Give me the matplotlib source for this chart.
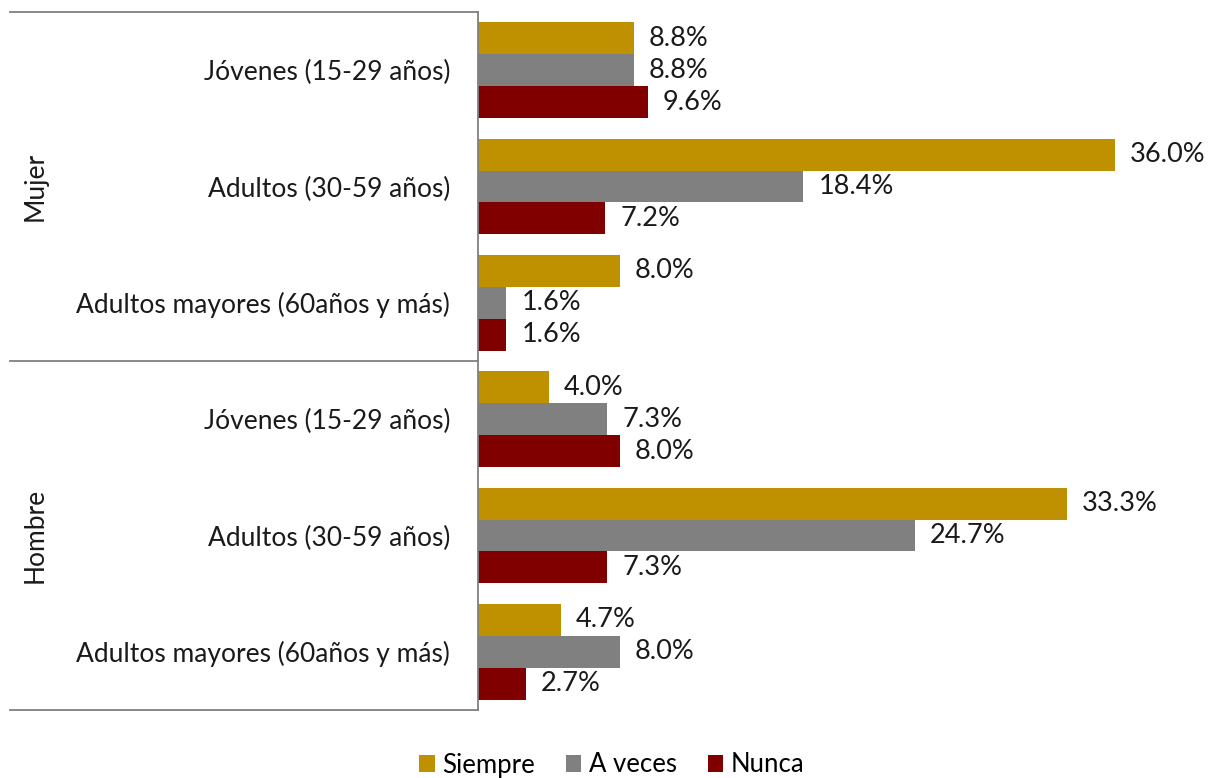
import matplotlib
matplotlib.use("Agg")
import matplotlib.pyplot as plt
from matplotlib.lines import Line2D
from matplotlib.patches import Patch
import numpy as np

plt.rcParams['font.family'] = ['Lato', 'DejaVu Sans']

groups = ["Mujer", "Hombre"]
categories = ["Jóvenes (15-29 años)", "Adultos (30-59 años)", "Adultos mayores (60años y más)",
              "Jóvenes (15-29 años)", "Adultos (30-59 años)", "Adultos mayores (60años y más)"]
series = ["Siempre", "A veces", "Nunca"]
siempre = [8.8, 36.0, 8.0, 4.0, 33.3, 4.7]
a_veces = [8.8, 18.4, 1.6, 7.3, 24.7, 8.0]
nunca = [9.6, 7.2, 1.6, 8.0, 7.3, 2.7]
colors = ["#BF9000", "#808080", "#800000"]

W, H = 1208, 778
fig = plt.figure(figsize=(W / 100, H / 100), dpi=100)
fig.patch.set_facecolor("white")
ax_left, ax_top, ax_bottom = 478, 12, 710
ax = fig.add_axes([ax_left / W, 1 - ax_bottom / H, 1 - ax_left / W, (ax_bottom - ax_top) / H])
ax.set_facecolor("none")

y = np.arange(len(categories))
bh = 0.275
for i, (vals, col) in enumerate(zip([siempre, a_veces, nunca], colors)):
    pos = y + (i - 1) * bh
    ax.barh(pos, vals, height=bh, color=col, label=series[i])
    for p, v in zip(pos, vals):
        ax.text(v + 0.85, p, f"{v:.1f}%", va="center", ha="left", fontsize=19.5, color="#1a1a1a")

ax.set_xlim(0, (W - ax_left) / 17.69)
ax.set_ylim(len(categories) - 0.5, -0.5)
ax.set_xticks([])
ax.set_yticks(y)
ax.set_yticklabels(categories, fontsize=19, color="#1a1a1a")
ax.tick_params(axis="y", length=0, pad=20)
for s in ["top", "right", "bottom"]:
    ax.spines[s].set_visible(False)
ax.spines["left"].set_color("#808080")
ax.spines["left"].set_linewidth(1.3)

# table-like separator lines on the left
for yy in [12, 361, 710]:
    fig.add_artist(Line2D([10 / W, ax_left / W], [1 - yy / H, 1 - yy / H],
                          color="#808080", lw=1.3, transform=fig.transFigure))

fig.text(35 / W, 1 - 186 / H, groups[0], rotation=90, ha="center", va="center", fontsize=19, color="#1a1a1a")
fig.text(35 / W, 1 - 535 / H, groups[1], rotation=90, ha="center", va="center", fontsize=19, color="#1a1a1a")

handles = [Patch(facecolor=c, edgecolor="none", label=s) for s, c in zip(series, colors)]
fig.legend(handles=handles, loc="center", bbox_to_anchor=(612 / W, 1 - 765 / H), ncol=3,
           frameon=False, fontsize=18.5, handlelength=0.6, handleheight=0.6,
           handletextpad=0.3, columnspacing=1.2)

fig.savefig("out.png", dpi=100)
